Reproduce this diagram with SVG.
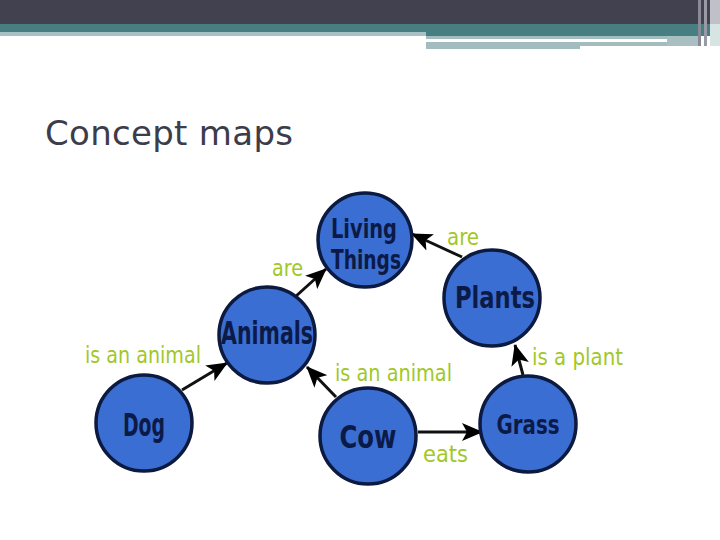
<svg xmlns="http://www.w3.org/2000/svg" width="720" height="540" viewBox="0 0 720 540">
<style>
.node circle{fill:#3a6ed2;stroke:#0c1a40;stroke-width:3.5}
.nt{font-family:"Liberation Sans Narrow","DejaVu Sans Condensed",sans-serif;font-weight:bold;fill:#0c1a48;text-anchor:middle}
.lbl{font-family:"DejaVu Sans Condensed","Liberation Sans Narrow",sans-serif;fill:#9fc828;font-size:23px}
.conn line{stroke:#111;stroke-width:3;marker-end:url(#ah)}
</style>
<defs>
<marker id="ah" markerUnits="userSpaceOnUse" markerWidth="22" markerHeight="18" refX="20" refY="9" orient="auto">
<path d="M0,0 L21,9 L0,18 L5,9 z" fill="#000"/>
</marker>
</defs>
<rect width="720" height="540" fill="#fff"/>
<g id="header">
<rect x="0" y="0" width="720" height="24" fill="#41414f"/>
<rect x="0" y="24" width="720" height="8" fill="#467e82"/>
<rect x="426" y="32" width="294" height="4" fill="#467e82"/>
<rect x="0" y="32" width="426" height="4" fill="#a7c1c4"/>
<rect x="426" y="36" width="274" height="3" fill="#a3bcbf"/>
<rect x="426" y="42" width="241" height="4" fill="#a3bcbf"/>
<rect x="426" y="46" width="154" height="3" fill="#a3bcbf"/>
<rect x="667" y="36" width="33" height="10" fill="#a8c0c2"/>
<rect x="698" y="0" width="3" height="46" fill="#8a8a96"/>
<rect x="704" y="0" width="3" height="46" fill="#9a9aa6"/>
<rect x="710" y="0" width="10" height="24" fill="#c0c0c8"/>
<rect x="710" y="24" width="10" height="22" fill="#d6e4e4"/>
</g>
<text x="45" y="145" font-family="DejaVu Sans, sans-serif" font-size="34" fill="#3c3c4a" textLength="248">Concept maps</text>
<g id="connectors" class="conn">
<line x1="295" y1="297" x2="326" y2="269"/>
<line x1="462" y1="257" x2="412" y2="234"/>
<line x1="182" y1="390" x2="227" y2="363"/>
<line x1="336" y1="397" x2="307" y2="367"/>
<line x1="418" y1="432" x2="482" y2="432"/>
<line x1="523" y1="375" x2="515" y2="345"/>
</g>
<g id="labels">
<text class="lbl" x="272" y="276" textLength="31" lengthAdjust="spacingAndGlyphs">are</text>
<text class="lbl" x="447" y="245" textLength="32" lengthAdjust="spacingAndGlyphs">are</text>
<text class="lbl" x="85" y="363" textLength="116" lengthAdjust="spacingAndGlyphs">is an animal</text>
<text class="lbl" x="335" y="381" textLength="117" lengthAdjust="spacingAndGlyphs">is an animal</text>
<text class="lbl" x="532" y="365" textLength="91" lengthAdjust="spacingAndGlyphs">is a plant</text>
<text class="lbl" x="423" y="462" textLength="45" lengthAdjust="spacingAndGlyphs">eats</text>
</g>
<g id="living-things" class="node">
<circle cx="365" cy="240" r="47"/>
<text class="nt" x="364" y="238" font-size="27" textLength="66" lengthAdjust="spacingAndGlyphs">Living</text>
<text class="nt" x="366" y="269" font-size="27" textLength="70" lengthAdjust="spacingAndGlyphs">Things</text>
</g>
<g id="plants" class="node">
<circle cx="492" cy="298" r="48"/>
<text class="nt" x="495" y="308" font-size="30" textLength="80" lengthAdjust="spacingAndGlyphs">Plants</text>
</g>
<g id="animals" class="node">
<circle cx="267" cy="335" r="48"/>
<text class="nt" x="267" y="344" font-size="32" textLength="92" lengthAdjust="spacingAndGlyphs">Animals</text>
</g>
<g id="dog" class="node">
<circle cx="144" cy="423" r="48"/>
<text class="nt" x="144" y="436" font-size="32" textLength="42" lengthAdjust="spacingAndGlyphs">Dog</text>
</g>
<g id="cow" class="node">
<circle cx="368" cy="436" r="48"/>
<text class="nt" x="368" y="448" font-size="32" textLength="57" lengthAdjust="spacingAndGlyphs">Cow</text>
</g>
<g id="grass" class="node">
<circle cx="528" cy="424" r="48"/>
<text class="nt" x="528" y="434" font-size="27" textLength="63" lengthAdjust="spacingAndGlyphs">Grass</text>
</g>
</svg>
